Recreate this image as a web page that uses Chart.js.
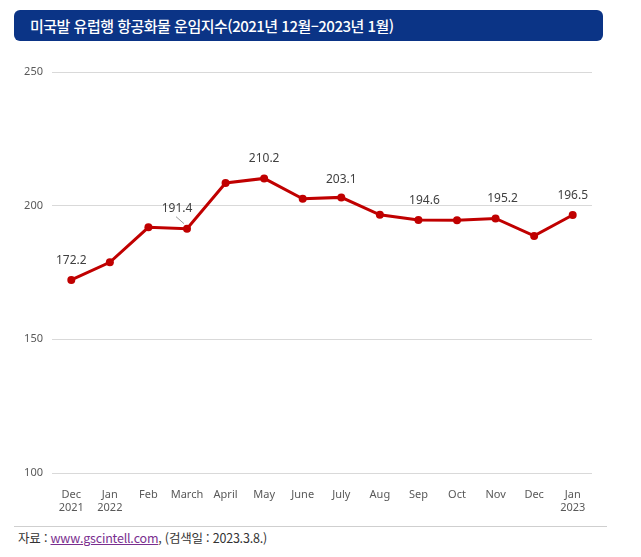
<!DOCTYPE html>
<html lang="ko">
<head>
<meta charset="utf-8">
<script src="https://cdn.jsdelivr.net/npm/chart.js@4.4.1/dist/chart.umd.min.js"></script>
<style>
    html, body { margin: 0; padding: 0; background: #fff; }
    body { width: 641px; height: 557px; position: relative; overflow: hidden; font-family: 'Noto Sans CJK KR', 'Noto Sans', sans-serif; }
    .title-bar {
        position: absolute; left: 14px; top: 10px; width: 589px; height: 31px;
        background: #0b3486; border-radius: 6px; color: #fff;
        font-size: 15px; font-weight: 500; line-height: 31px; padding-left: 16px; box-sizing: border-box;
        letter-spacing: -0.5px;
    }
    .chart-box { position: absolute; left: 0; top: 50px; width: 641px; height: 470px; }
    .footer {
        position: absolute; left: 14px; top: 526px; width: 589px; border-top: 1px solid #cfcfcf;
        font-size: 12.5px; color: #333; padding-top: 1px; padding-left: 4px; letter-spacing: -0.2px;
    }
    .footer a { color: #7a2f8f; text-decoration: underline; }
</style>
</head>
<body>
<div class="title-bar">미국발 유럽행 항공화물 운임지수(2021년 12월–2023년 1월)</div>
<div class="chart-box"><canvas id="rateChart"></canvas></div>
<div class="footer">자료 : <a>www.gscintell.com</a>, (검색일 : 2023.3.8.)</div>
<script>
// ===== Air cargo rate index, US -> Europe =====

const months = [
    ['Dec', '2021'], ['Jan', '2022'], 'Feb', 'March', 'April', 'May', 'June',
    'July', 'Aug', 'Sep', 'Oct', 'Nov', 'Dec', ['Jan', '2023']
];
const rateIndex = [172.2, 178.8, 191.9, 191.4, 208.5, 210.2, 202.6, 203.1, 196.6, 194.6, 194.5, 195.2, 188.7, 196.5];
const yTicks = [100, 150, 200, 250];

// points that carry a value label, with pixel offsets from the point
const labelled = [
    { i: 0, dx: 0, dy: -19 },
    { i: 3, dx: -10, dy: -20 },
    { i: 5, dx: 0, dy: -20 },
    { i: 7, dx: 0, dy: -18 },
    { i: 9, dx: 6, dy: -20 },
    { i: 11, dx: 7, dy: -20 },
    { i: 13, dx: 0, dy: -19 }
];

const FONT = "'Noto Sans', sans-serif";

// draw the value labels (and the little leader line for March)
const valueLabels = {
    id: 'valueLabels',
    afterDatasetsDraw(chart) {
        const { ctx, scales } = chart;
        ctx.save();
        ctx.font = '12px ' + FONT;
        ctx.fillStyle = '#404040';
        ctx.textAlign = 'center';
        ctx.textBaseline = 'middle';
        labelled.forEach(l => {
            const x = scales.x.getPixelForValue(l.i);
            const y = scales.y.getPixelForValue(rateIndex[l.i]);
            ctx.fillText(rateIndex[l.i].toFixed(1), x + l.dx, y + l.dy);
            if (l.i === 3) {
                ctx.strokeStyle = '#9a9a9a';
                ctx.lineWidth = 1;
                ctx.beginPath();
                ctx.moveTo(x - 11, y - 12);
                ctx.lineTo(x - 3, y - 5);
                ctx.stroke();
            }
        });
        ctx.restore();
    }
};

new Chart(document.getElementById('rateChart').getContext('2d'), {
    type: 'line',
    data: {
        labels: months,
        datasets: [{
            data: rateIndex,
            borderColor: '#c00000',
            backgroundColor: '#c00000',
            borderWidth: 3,
            pointRadius: 4,
            pointBorderWidth: 0,
            tension: 0
        }]
    },
    options: {
        responsive: true,
        maintainAspectRatio: false,
        animation: false,
        layout: { padding: { left: 0, right: 49, top: 22, bottom: 0 } },
        plugins: {
            legend: { display: false },
            tooltip: { enabled: false }
        },
        scales: {
            x: {
                offset: true,
                grid: { display: false },
                border: { display: false },
                ticks: {
                    color: '#595959',
                    font: { family: FONT, size: 11 },
                    maxRotation: 0,
                    autoSkip: false,
                    padding: 7
                },
                afterFit(scale) { scale.height = 47; }
            },
            y: {
                min: 100,
                max: 250,
                afterBuildTicks(scale) { scale.ticks = yTicks.map(v => ({ value: v })); },
                grid: { color: '#d9d9d9', lineWidth: 1, drawTicks: false },
                border: { display: false },
                ticks: {
                    color: '#595959',
                    font: { family: FONT, size: 11 },
                    padding: 9
                },
                afterFit(scale) { scale.width = 52; }
            }
        }
    },
    plugins: [valueLabels]
});
</script>
</body>
</html>
